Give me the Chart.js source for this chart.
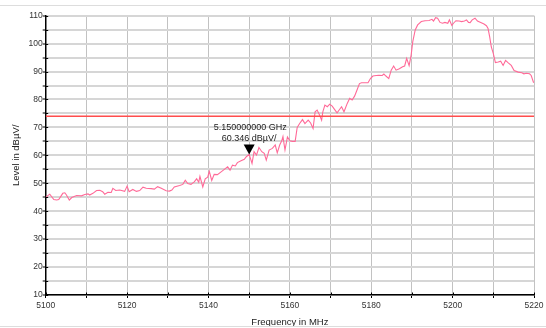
<!DOCTYPE html>
<html><head><meta charset="utf-8">
<script src="https://cdn.jsdelivr.net/npm/chart.js@4"></script>
<style>html,body{margin:0;padding:0;background:#fff}#wrap{width:546px;height:328px;position:relative}</style>
</head><body><div id="wrap"><canvas id="c" width="546" height="328"></canvas></div>
<script>
const freqMHz = [5100.0,5101.0,5102.0,5102.7,5103.2,5104.2,5104.7,5105.1,5105.8,5106.4,5107.6,5108.8,5109.6,5110.4,5110.8,5111.6,5112.5,5113.3,5114.0,5114.5,5115.3,5116.1,5116.5,5117.2,5118.2,5119.4,5120.0,5120.5,5121.4,5122.3,5123.1,5123.9,5124.7,5125.9,5126.7,5127.5,5128.4,5129.6,5130.4,5131.0,5131.6,5132.9,5133.7,5134.3,5134.9,5135.7,5136.5,5137.1,5137.6,5137.9,5138.6,5139.2,5139.8,5140.2,5140.8,5141.4,5142.2,5143.1,5143.9,5144.7,5145.3,5145.9,5146.6,5147.1,5148.0,5148.8,5149.3,5150.0,5150.7,5151.2,5151.8,5152.4,5153.1,5153.7,5154.2,5154.9,5155.7,5156.4,5156.9,5157.5,5158.0,5158.3,5158.8,5159.4,5160.0,5160.6,5161.3,5161.8,5162.4,5163.1,5163.7,5164.5,5165.1,5165.7,5166.2,5166.7,5167.3,5167.8,5168.1,5168.6,5169.2,5169.8,5170.4,5171.1,5171.6,5172.2,5172.7,5173.3,5174.1,5174.7,5175.3,5175.9,5176.5,5177.1,5177.6,5178.4,5179.2,5179.8,5180.4,5181.2,5181.9,5182.7,5183.1,5183.6,5184.3,5184.9,5185.5,5186.1,5186.9,5187.7,5188.2,5188.7,5189.3,5189.8,5190.2,5190.8,5191.4,5192.3,5193.2,5194.2,5194.9,5195.3,5195.8,5196.3,5196.9,5197.5,5198.1,5198.8,5199.2,5199.8,5200.2,5200.8,5201.6,5202.2,5202.9,5203.4,5203.9,5204.3,5204.8,5205.5,5206.1,5206.9,5207.7,5208.3,5208.7,5209.1,5209.5,5210.0,5210.5,5211.2,5211.8,5212.4,5213.0,5213.6,5214.4,5215.1,5216.1,5217.0,5217.5,5218.1,5218.9,5219.3,5219.9];
const levelDbuv = [45.0,46.1,44.2,44.0,44.2,46.4,46.6,45.8,44.0,44.9,45.6,45.5,46.0,46.2,45.8,46.4,47.4,47.5,47.0,46.1,46.8,46.7,48.2,47.4,47.6,47.1,49.0,47.0,47.8,47.1,47.4,48.6,48.2,48.1,47.9,48.8,48.2,47.3,47.2,47.6,48.7,49.2,49.6,51.1,49.9,49.6,50.5,51.6,50.4,52.5,48.7,51.6,52.2,54.3,51.0,53.2,53.1,54.1,55.0,55.9,54.7,56.5,56.2,57.4,58.1,58.6,59.5,60.35,57.1,61.3,60.1,62.8,61.3,60.7,58.3,61.9,62.5,63.7,60.9,63.7,65.2,66.7,61.9,66.6,65.2,65.0,65.0,70.0,71.4,72.8,71.4,72.6,71.6,69.6,75.6,76.2,74.4,72.6,75.6,78.0,77.4,78.3,77.6,76.2,75.2,76.4,77.4,75.6,78.6,80.4,79.8,81.2,83.4,85.7,86.0,86.0,86.0,87.5,88.4,88.6,88.7,88.6,89.1,88.4,87.5,90.5,92.0,90.5,91.0,91.7,92.0,94.7,92.1,95.9,100.7,104.9,106.7,107.9,108.2,108.3,108.7,108.1,109.3,109.1,107.6,107.3,107.6,107.3,108.5,106.5,107.3,108.2,108.1,107.9,108.1,108.5,107.6,107.5,108.5,109.1,108.1,107.6,107.0,106.4,105.4,102.4,98.8,96.4,93.2,93.4,93.7,92.2,94.0,93.2,92.2,90.4,89.8,89.6,89.2,89.4,89.2,88.6,86.0];
const limitFreq = [5100, 5220];
const limitLevel = [74, 74];
const markerFreq = [5150];
const markerLevel = [60.346];
const markerText = ['5.150000000 GHz', '60.346 dBµV/'];
const xTitle = 'Frequency in MHz';
const yTitle = 'Level in dBµV/';

const FONT = "'Liberation Sans', Arial, sans-serif";

const overlay = {
  id: 'overlay',
  afterDraw(chart) {
    const {ctx, scales: {x, y}} = chart;
    ctx.save();
    // inner halves of tick marks
    ctx.strokeStyle = '#000'; ctx.lineWidth = 1;
    x.ticks.forEach(t => {
      const px = Math.round(x.getPixelForValue(t.value)) + 0.5;
      ctx.beginPath(); ctx.moveTo(px, y.bottom); ctx.lineTo(px, y.bottom - 2.5); ctx.stroke();
    });
    y.ticks.forEach(t => {
      const py = Math.round(y.getPixelForValue(t.value)) + 0.5;
      ctx.beginPath(); ctx.moveTo(x.left, py); ctx.lineTo(x.left + 2.5, py); ctx.stroke();
    });
    // marker
    markerFreq.forEach((f, i) => {
      const px = x.getPixelForValue(f), py = y.getPixelForValue(markerLevel[i]);
      ctx.beginPath();
      ctx.moveTo(px, py); ctx.lineTo(px - 5.5, py - 10); ctx.lineTo(px + 5.5, py - 10); ctx.closePath();
      ctx.fillStyle = '#000'; ctx.fill();
      ctx.font = '9px ' + FONT; ctx.fillStyle = '#222';
      ctx.textAlign = 'center'; ctx.textBaseline = 'alphabetic';
      ctx.fillText(markerText[0], px + 1, py - 24);
      ctx.fillText(markerText[1], px, py - 13.5);
    });
    // frame lines
    ctx.strokeStyle = '#dddddd'; ctx.lineWidth = 1;
    ctx.beginPath(); ctx.moveTo(0, 5.5); ctx.lineTo(546, 5.5); ctx.stroke();
    ctx.beginPath(); ctx.moveTo(0, 326.5); ctx.lineTo(546, 326.5); ctx.stroke();
    ctx.restore();
  }
};

new Chart(document.getElementById('c'), {
  type: 'line',
  data: {
    datasets: [
      {
        label: 'Limit',
        data: limitFreq.map((f, i) => ({x: f, y: limitLevel[i]})),
        borderColor: '#ff4d4d', borderWidth: 1.5, pointRadius: 0, fill: false
      },
      {
        label: 'Level',
        data: freqMHz.map((f, i) => ({x: f, y: levelDbuv[i]})),
        borderColor: '#ff6a98', borderWidth: 1.1, pointRadius: 0, fill: false, tension: 0
      }
    ]
  },
  options: {
    responsive: false, animation: false, devicePixelRatio: 1,
    layout: {padding: {left: 0, top: 15.7, right: 10, bottom: 0}},
    plugins: {legend: {display: false}, tooltip: {enabled: false}},
    scales: {
      x: {
        type: 'linear', min: 5100, max: 5220,
        ticks: {stepSize: 10, autoSkip: false, maxRotation: 0, padding: 2.5, color: '#333',
          font: {family: FONT, size: 8.5},
          callback: v => (v % 20 === 0 ? String(v) : '')},
        grid: {color: '#c2c2c2', lineWidth: 1, tickLength: 3, tickColor: '#000', tickWidth: 1},
        border: {color: '#000', width: 1.5},
        title: {display: true, text: xTitle, color: '#222', font: {family: FONT, size: 9.5}, padding: {top: 0, bottom: 0}},
        afterFit: s => { s.height = 33; }
      },
      y: {
        min: 10, max: 110,
        ticks: {stepSize: 5, autoSkip: false, padding: 0, color: '#333',
          font: {family: FONT, size: 8.5},
          callback: v => (v % 10 === 0 ? String(v) : '')},
        grid: {color: '#d6d6d6', lineWidth: 2, tickLength: 3, tickColor: '#000', tickWidth: 1},
        border: {color: '#000', width: 1.5},
        title: {display: true, text: yTitle, color: '#222', font: {family: FONT, size: 9.5}, padding: {top: 10.8, bottom: 0}},
        afterFit: s => { s.width = 45.7; }
      }
    }
  },
  plugins: [overlay]
});
</script>
</body></html>
